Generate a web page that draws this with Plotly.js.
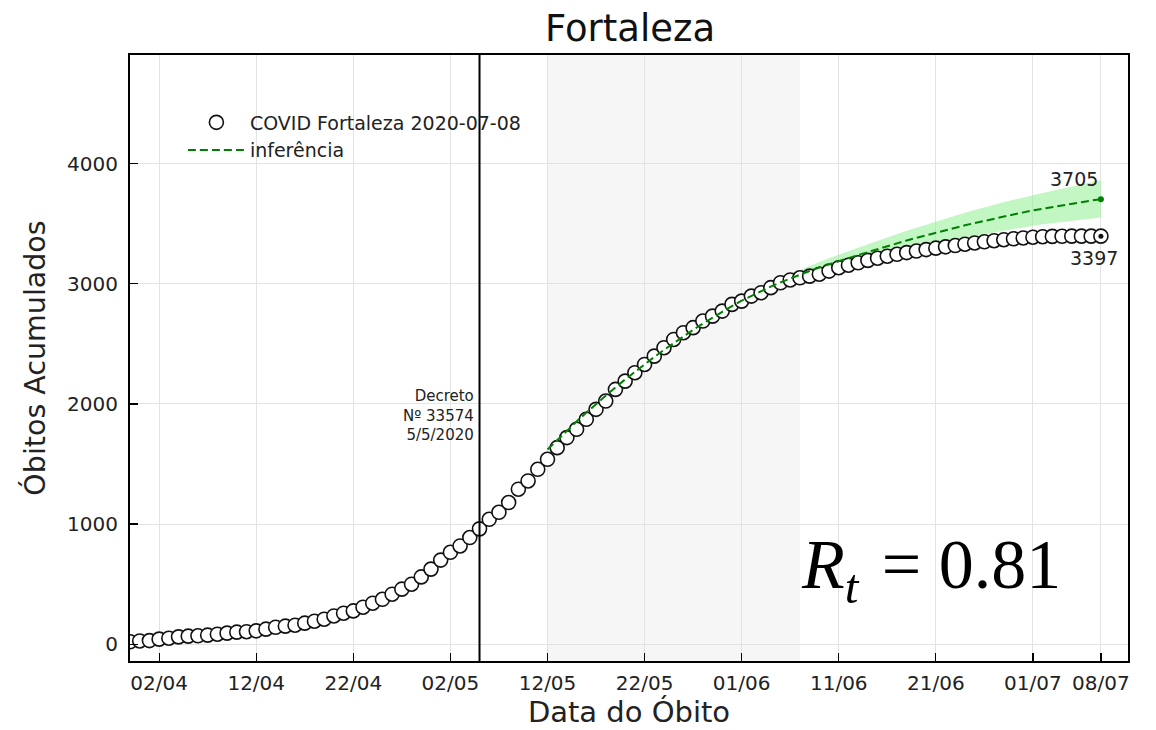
<!DOCTYPE html>
<html>
<head>
<meta charset="utf-8">
<script src="https://cdn.plot.ly/plotly-3.0.1.min.js"></script>
<style>
html,body{margin:0;padding:0;background:#fff;}
#chart{width:1156px;height:730px;}
</style>
</head>
<body>
<div id="chart"></div>
<script>
// ---- data ----
const obsStart = '2020-03-30';
const observed = [
  20, 27,
  30, 42, 50, 61, 67, 70, 75, 83, 92, 100, 104, 111, 125, 141, 150, 158, 175, 191, 208, 235,
  258, 277, 308, 341, 374, 416, 458, 499, 560, 625,
  700, 765, 818, 888, 960, 1040, 1098, 1179, 1290, 1359, 1456, 1539, 1636, 1720, 1789, 1872,
  1955, 2024, 2121, 2190, 2260, 2329, 2398, 2468, 2537, 2593, 2635, 2690, 2731, 2773, 2829,
  2856, 2898, 2926, 2968, 3009, 3032, 3050, 3064, 3080, 3106, 3134, 3155, 3175, 3195, 3213,
  3230, 3246, 3260, 3273, 3285, 3297, 3308, 3319, 3330, 3340, 3350, 3359, 3367, 3375, 3382,
  3388, 3392, 3395, 3396, 3397, 3397, 3397, 3397
];
const infStart = '2020-05-12';
const inference = [
  1620, 1700, 1778, 1854, 1928, 2000, 2070, 2138, 2204, 2268,
  2330, 2391, 2450, 2507, 2563, 2617, 2669, 2719, 2768, 2815,
  2860, 2901, 2940, 2977, 3012, 3045, 3077, 3107, 3136, 3164,
  3188, 3214, 3240, 3265, 3290, 3314, 3338, 3361, 3383, 3405,
  3426, 3447, 3467, 3487, 3506, 3525, 3543, 3561, 3578, 3595,
  3611, 3626, 3640, 3654, 3667, 3680, 3693, 3705
];
const infUpper = [
  1626, 1707, 1785, 1862, 1936, 2009, 2079, 2148, 2214, 2279,
  2342, 2404, 2464, 2522, 2579, 2634, 2687, 2738, 2788, 2837,
  2884, 2927, 2968, 3008, 3046, 3082, 3117, 3150, 3182, 3213,
  3240, 3270, 3300, 3329, 3358, 3386, 3414, 3441, 3467, 3493,
  3518, 3543, 3567, 3591, 3614, 3637, 3658, 3679, 3699, 3719,
  3738, 3756, 3774, 3792, 3809, 3826, 3844, 3863
];
const infLower = [
  1614, 1693, 1771, 1846, 1920, 1991, 2061, 2128, 2194, 2257,
  2318, 2378, 2436, 2492, 2547, 2600, 2651, 2700, 2748, 2793,
  2836, 2875, 2912, 2946, 2978, 3008, 3037, 3064, 3090, 3115,
  3136, 3158, 3180, 3201, 3222, 3242, 3262, 3281, 3299, 3317,
  3334, 3351, 3367, 3383, 3398, 3413, 3428, 3443, 3457, 3471,
  3484, 3496, 3506, 3516, 3525, 3534, 3542, 3552
];
const tickDates = ['2020-04-02','2020-04-12','2020-04-22','2020-05-02','2020-05-12','2020-05-22',
                   '2020-06-01','2020-06-11','2020-06-21','2020-07-01','2020-07-08'];
const tickLabels = ['02/04','12/04','22/04','02/05','12/05','22/05','01/06','11/06','21/06','01/07','08/07'];
const yTicks = [0, 1000, 2000, 3000, 4000];
const yLabels = ['0','1000','2000','3000','4000'];
const decreeDate = '2020-05-05';
const shadeStart = '2020-05-12';
const shadeEnd = '2020-06-07';
const lastObs = 3397;
const lastInf = 3705;

function dayList(start, n){
  const out = [];
  const d0 = new Date(start + 'T00:00:00Z');
  for(let i=0;i<n;i++){
    const d = new Date(d0.getTime() + i*86400000);
    out.push(d.toISOString().slice(0,10));
  }
  return out;
}
const obsDates = dayList(obsStart, observed.length);
const infDates = dayList(infStart, inference.length);
const lastDate = obsDates[obsDates.length-1];

const FONT = 'DejaVu Sans, sans-serif';

const traces = [
  {x: infDates, y: infLower, type:'scatter', mode:'lines', line:{width:0, color:'rgba(0,0,0,0)'},
   showlegend:false, hoverinfo:'skip', legendgroup:'band'},
  {x: infDates, y: infUpper, type:'scatter', mode:'lines', line:{width:0, color:'rgba(0,0,0,0)'},
   fill:'tonexty', fillcolor:'rgba(144,238,144,0.55)', showlegend:false, hoverinfo:'skip', legendgroup:'band'},
  {x: obsDates, y: observed, type:'scatter', mode:'markers', name:'COVID Fortaleza 2020-07-08',
   legendrank:1, legendgroup:'obs',
   marker:{symbol:'circle', size:14, color:'#ffffff', line:{color:'#111111', width:1.6}}},
  {x: infDates, y: inference, type:'scatter', mode:'lines', name:'inferência', legendrank:2, legendgroup:'inf',
   line:{color:'#008000', width:2, dash:'8px,4px'}},
  {x: [lastDate], y: [lastInf], type:'scatter', mode:'markers', showlegend:false,
   marker:{color:'#008000', size:6}},
  {x: [lastDate], y: [lastObs], type:'scatter', mode:'markers', showlegend:false,
   marker:{color:'#111111', size:5}}
];

const layout = {
  width:1156, height:730,
  margin:{l:130, r:28, t:55, b:69},
  paper_bgcolor:'#ffffff', plot_bgcolor:'#ffffff',
  font:{family:FONT, color:'#222222', size:18},
  title:{text:'Fortaleza', font:{family:FONT, size:37, color:'#111111'}, x:0.545, xanchor:'center', y:0.962, yanchor:'middle'},
  showlegend:true,
  legend:{x:0.053, y:0.92, xanchor:'left', yanchor:'top', bgcolor:'rgba(0,0,0,0)',
          traceorder:'normal', itemwidth:57,
          font:{family:FONT, size:19, color:'#222222'}, tracegroupgap:4, itemsizing:'trace'},
  xaxis:{type:'date', range:['2020-03-30 00:00','2020-07-10 19:00'],
         tickvals:tickDates, ticktext:tickLabels, ticks:'inside', ticklen:8, tickwidth:1.2, tickcolor:'#000',
         showline:true, linecolor:'#000', linewidth:2, mirror:true,
         showgrid:true, gridcolor:'#e3e3e3', gridwidth:1, zeroline:false,
         tickfont:{family:FONT, size:20, color:'#222'}, ticklabelstandoff:3,
         title:{text:'Data do Óbito', font:{family:FONT, size:29, color:'#222'}, standoff:4}},
  yaxis:{range:[-140, 4905], tickvals:yTicks, ticktext:yLabels, ticks:'inside', ticklen:8, tickwidth:1.2, tickcolor:'#000',
         showline:true, linecolor:'#000', linewidth:2, mirror:true,
         showgrid:true, gridcolor:'#e3e3e3', gridwidth:1, zeroline:false,
         tickfont:{family:FONT, size:20, color:'#222'}, ticklabelstandoff:6,
         title:{text:'Óbitos Acumulados', font:{family:FONT, size:28.5, color:'#222'}, standoff:13}},
  shapes:[
    {type:'rect', xref:'x', yref:'paper', x0:shadeStart, x1:shadeEnd, y0:0, y1:1,
     fillcolor:'#f6f6f6', line:{width:0}, layer:'below'},
    {type:'line', xref:'x', yref:'paper', x0:decreeDate, x1:decreeDate, y0:0, y1:1,
     line:{color:'#000', width:2}}
  ],
  annotations:[
    {x:lastDate, y:lastInf, xref:'x', yref:'y', text:String(lastInf), showarrow:false,
     xanchor:'center', yanchor:'middle', xshift:-27, yshift:20, font:{family:FONT, size:19, color:'#222'}},
    {x:lastDate, y:lastObs, xref:'x', yref:'y', text:String(lastObs), showarrow:false,
     xanchor:'center', yanchor:'middle', xshift:-7, yshift:-22, font:{family:FONT, size:19, color:'#222'}},
    {x:decreeDate, y:1905, xref:'x', yref:'y', text:'Decreto<br>Nº 33574<br>5/5/2020', showarrow:false,
     xanchor:'right', yanchor:'middle', align:'right', xshift:-4, font:{family:FONT, size:15, color:'#222'}},
    {x:0.8026, y:0.150, xref:'paper', yref:'paper', text:'<i>R</i><sub><i>t</i></sub>&#8202; = 0.81', showarrow:false,
     xanchor:'center', yanchor:'middle', font:{family:'Liberation Serif, DejaVu Serif, serif', size:70, color:'#000'}}
  ]
};

Plotly.newPlot('chart', traces, layout, {displayModeBar:false, staticPlot:true});
</script>
</body>
</html>
